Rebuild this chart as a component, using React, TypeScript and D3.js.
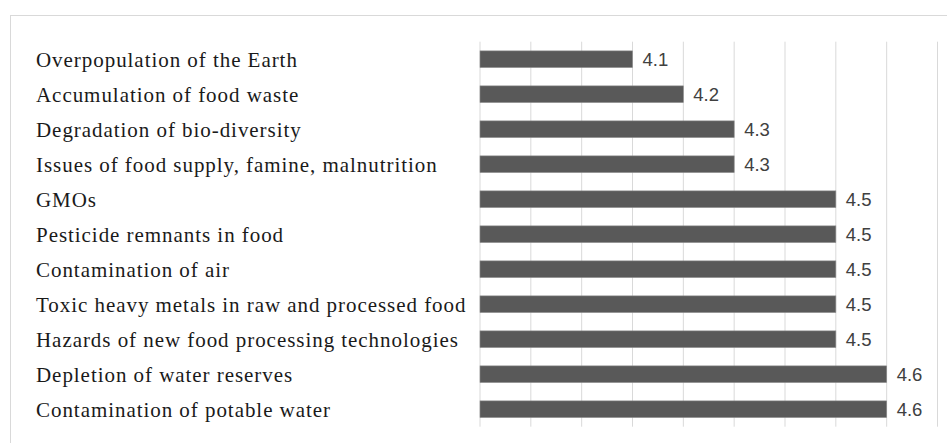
import React from "react";
import * as d3 from "d3";

const categories = [
  "Overpopulation of the Earth",
  "Accumulation of food waste",
  "Degradation of bio-diversity",
  "Issues of food supply, famine, malnutrition",
  "GMOs",
  "Pesticide remnants in food",
  "Contamination of air",
  "Toxic heavy metals in raw and processed food",
  "Hazards of new food processing technologies",
  "Depletion of water reserves",
  "Contamination of potable water",
];

const values = [4.1, 4.2, 4.3, 4.3, 4.5, 4.5, 4.5, 4.5, 4.5, 4.6, 4.6];

const xDomain: [number, number] = [3.8, 4.7];
const gridStep = 0.1;

const W = 947;
const H = 443;
const plot = { left: 480, right: 937.5, top: 41.7, bottom: 426.7 };

export default function App() {
  const x = d3.scaleLinear().domain(xDomain).range([plot.left, plot.right]);
  const y = d3
    .scaleBand<string>()
    .domain(categories)
    .range([plot.top, plot.bottom])
    .paddingInner(0.525)
    .paddingOuter(0.2625);

  const gridValues = d3.range(0, 10).map((i) => xDomain[0] + i * gridStep);
  const fmt = d3.format(".1f");

  return (
    <svg
      width={W}
      height={H}
      style={{ position: "absolute", left: 0, top: 0, background: "#fff" }}
    >
      <rect x={10.5} y={15.5} width={W} height={H} fill="#fff" stroke="#d9d9d9" strokeWidth={1} />

      {gridValues.map((g, i) => (
        <line
          key={i}
          x1={x(g)}
          x2={x(g)}
          y1={plot.top}
          y2={plot.bottom}
          stroke="#d9d9d9"
          strokeWidth={1}
        />
      ))}

      {categories.map((c, i) => {
        const yy = y(c)!;
        const bw = y.bandwidth();
        const cy = yy + bw / 2;
        return (
          <g key={c}>
            <rect
              x={x(xDomain[0])}
              y={yy}
              width={x(values[i]) - x(xDomain[0])}
              height={bw}
              fill="#595959"
              stroke="#8a8a8a"
              strokeWidth={0.6}
            />
            <text
              x={36}
              y={cy}
              dy="0.37em"
              fontFamily="'Liberation Serif', serif"
              fontSize={21}
              letterSpacing={0.95}
              fill="#1a1a1a"
            >
              {c}
            </text>
            <text
              x={x(values[i]) + 10}
              y={cy}
              dy="0.37em"
              fontFamily="'Liberation Sans', sans-serif"
              fontSize={18.5}
              fill="#404040"
            >
              {fmt(values[i])}
            </text>
          </g>
        );
      })}
    </svg>
  );
}
